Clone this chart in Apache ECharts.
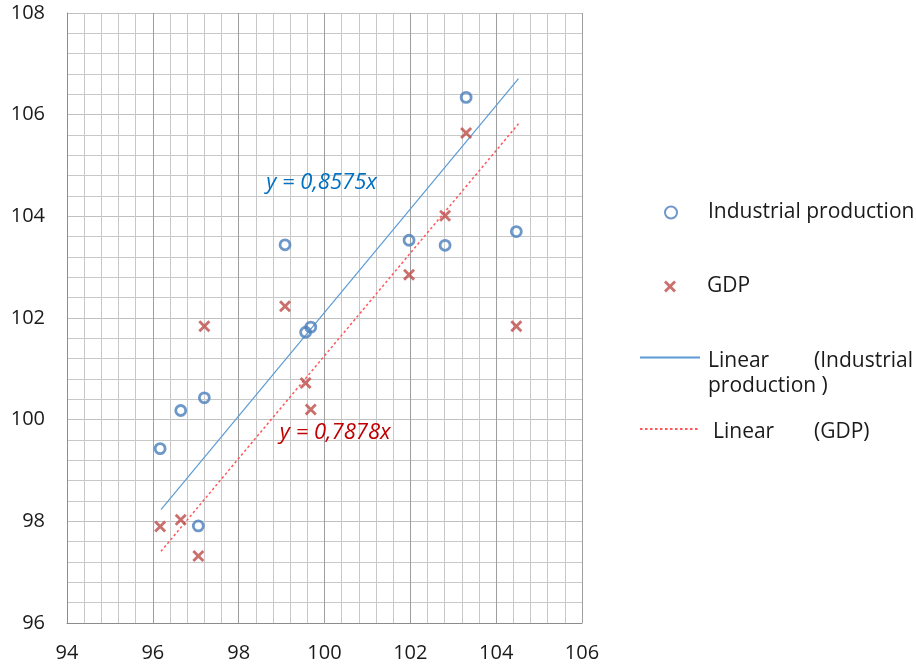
<!DOCTYPE html>
<html>
<head>
<meta charset="utf-8">
<script src="https://cdn.jsdelivr.net/npm/echarts@6.0.0/dist/echarts.min.js"></script>
<style>
html,body{margin:0;padding:0;background:#fff;}
#chart{width:916px;height:668px;}
</style>
</head>
<body>
<div id="chart"></div>
<script>
// ---- Data ----
const xValues      = [96.17, 96.65, 97.06, 97.20, 99.08, 99.56, 99.68, 101.97, 102.81, 103.30, 104.47];
const industrial   = [99.43, 100.18, 97.91, 100.43, 103.44, 101.72, 101.82, 103.53, 103.43, 106.34, 103.70];
const gdp          = [97.90, 98.03, 97.32, 101.84, 102.23, 100.72, 100.20, 102.85, 104.01, 105.64, 101.84];
const trendX            = [96.19, 104.52];
const trendIndustrial   = [98.23, 106.71];
const trendGdp          = [97.41, 105.82];
const xTicks = [94, 106, 2];   // min, max, step
const yTicks = [96, 108, 2];
const seriesNames = ['Industrial production', 'GDP', 'Linear (Industrial production )', 'Linear (GDP)'];
const equationLabels = ['y = 0,8575x', 'y = 0,7878x'];
const equationAnchors = [[99.93, 104.67], [100.25, 99.74]];

// ---- Build ----
const pairs = (xs, ys) => xs.map((x, i) => [x, ys[i]]);
const FONT = 'Open Sans';
const TXT = '#1a1a1a';
const BLUE = '#4a7ebb', RED = '#be4b48';
const crossPath = 'path://M0,2 L2,0 L6,4 L10,0 L12,2 L8,6 L12,10 L10,12 L6,8 L2,12 L0,10 L4,6 Z';

const chart = echarts.init(document.getElementById('chart'), null, {renderer: 'canvas'});

function txt(extra) {
  return Object.assign({fontFamily: FONT, fontSize: 21, color: TXT}, extra || {});
}

const option = {
  backgroundColor: '#fff',
  animation: false,
  grid: {left: 67, top: 13, width: 515, height: 610, containLabel: false, outerBoundsMode: 'none'},
  xAxis: {
    type: 'value', min: xTicks[0], max: xTicks[1], interval: xTicks[2],
    axisLine: {show: true, lineStyle: {color: '#8c8c8c', width: 1}},
    axisTick: {show: false},
    axisLabel: {fontFamily: FONT, fontSize: 20, color: TXT, margin: 20, showMinLabel: true, showMaxLabel: true},
    splitLine: {show: true, lineStyle: {color: '#9e9e9e', width: 1}},
    minorTick: {show: false, splitNumber: 5},
    minorSplitLine: {show: true, lineStyle: {color: '#c8c8c8', width: 1}}
  },
  yAxis: {
    type: 'value', min: yTicks[0], max: yTicks[1], interval: yTicks[2],
    axisLine: {show: true, lineStyle: {color: '#8c8c8c', width: 1}},
    axisTick: {show: false},
    axisLabel: {fontFamily: FONT, fontSize: 20, color: TXT, margin: 22, showMinLabel: true, showMaxLabel: true},
    splitLine: {show: true, lineStyle: {color: '#c0c0c0', width: 1}},
    minorTick: {show: false, splitNumber: 5},
    minorSplitLine: {show: true, lineStyle: {color: '#c8c8c8', width: 1}}
  },
  legend: [
    {
      data: [seriesNames[0]], left: 664, top: 202, padding: 0, selectedMode: false,
      itemWidth: 12, itemHeight: 12,
      textStyle: txt({padding: [0, 0, 0, 26]})
    },
    {
      data: [seriesNames[1]], left: 664, top: 276, padding: 0, selectedMode: false,
      itemWidth: 12, itemHeight: 12,
      textStyle: txt({padding: [0, 0, 0, 26]})
    },
    {
      data: [seriesNames[2]], left: 639, top: 351, padding: 0, selectedMode: false,
      itemWidth: 60, itemHeight: 14,
      itemStyle: {color: 'rgba(0,0,0,0)', borderColor: 'rgba(0,0,0,0)', borderWidth: 0, opacity: 0},
      formatter: () => '{a|Linear}{b|(Industrial}\n{c|production )}',
      textStyle: txt({padding: [33, 0, 0, 3],
        rich: {
          a: txt({width: 106, lineHeight: 25}),
          b: txt({lineHeight: 25}),
          c: txt({lineHeight: 25})
        }})
    },
    {
      data: [seriesNames[3]], left: 639, top: 422, padding: 0, selectedMode: false,
      itemWidth: 60, itemHeight: 14,
      itemStyle: {color: 'rgba(0,0,0,0)', borderColor: 'rgba(0,0,0,0)', borderWidth: 0, opacity: 0},
      formatter: () => '{a|Linear}{b|(GDP)}',
      textStyle: txt({padding: [7, 0, 0, 8],
        rich: {
          a: txt({width: 101, lineHeight: 25}),
          b: txt({lineHeight: 25})
        }})
    }
  ],
  series: [
    {
      name: seriesNames[0], type: 'scatter', data: pairs(xValues, industrial),
      symbol: 'circle', symbolSize: 10, z: 5,
      itemStyle: {color: 'rgba(255,255,255,0)', borderColor: BLUE, borderWidth: 2.8}
    },
    {
      name: seriesNames[1], type: 'scatter', data: pairs(xValues, gdp),
      symbol: crossPath, symbolSize: 12, z: 5,
      itemStyle: {color: RED}
    },
    {
      name: seriesNames[2], type: 'line', data: pairs(trendX, trendIndustrial),
      symbol: 'none', showSymbol: false, z: 3,
      lineStyle: {color: '#5b9bd5', width: 1.2, type: 'solid'},
      markPoint: {
        silent: true, symbol: 'circle', symbolSize: 1,
        itemStyle: {color: 'rgba(0,0,0,0)'},
        label: {show: true, position: 'inside', formatter: equationLabels[0],
          fontFamily: FONT, fontStyle: 'italic', fontSize: 22, color: '#0070c0'},
        data: [{coord: equationAnchors[0]}]
      }
    },
    {
      name: seriesNames[3], type: 'line', data: pairs(trendX, trendGdp),
      symbol: 'none', showSymbol: false, z: 3,
      lineStyle: {color: '#ff5757', width: 1.5, type: [2.5, 2.5]},
      markPoint: {
        silent: true, symbol: 'circle', symbolSize: 1,
        itemStyle: {color: 'rgba(0,0,0,0)'},
        label: {show: true, position: 'inside', formatter: equationLabels[1],
          fontFamily: FONT, fontStyle: 'italic', fontSize: 22, color: '#c00000'},
        data: [{coord: equationAnchors[1]}]
      }
    }
  ]
};
chart.setOption(option);
</script>
</body>
</html>
